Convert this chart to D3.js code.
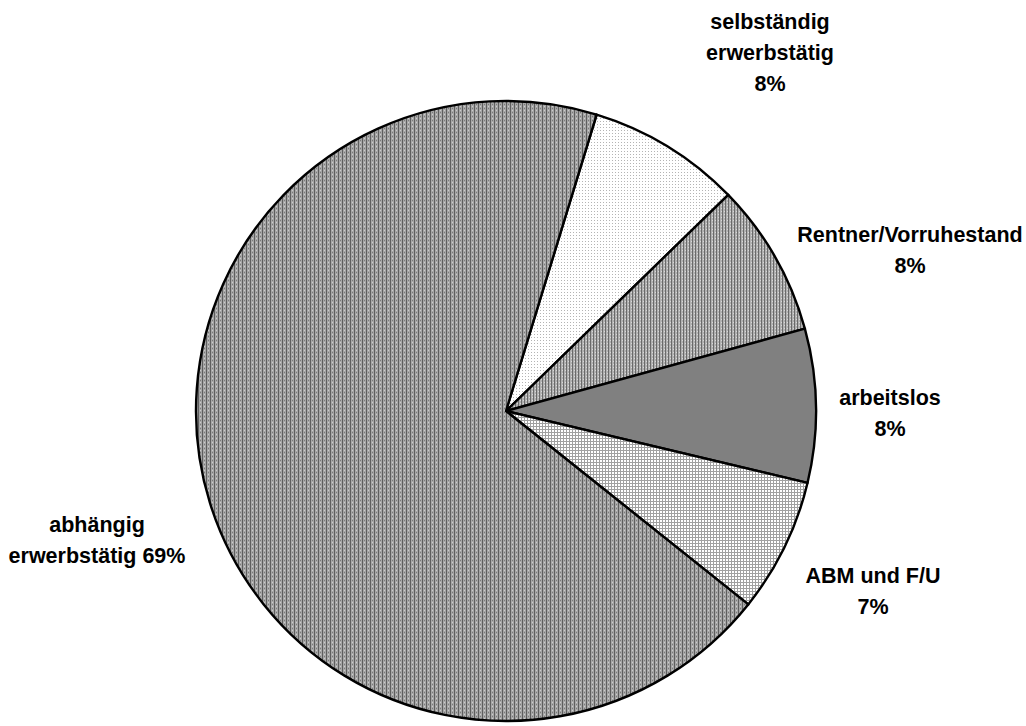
<!DOCTYPE html>
<html>
<head>
<meta charset="utf-8">
<script src="https://cdn.jsdelivr.net/npm/d3@7"></script>
<style>
  html, body { margin: 0; padding: 0; background: #fff; }
  svg { display: block; }
  text { font-family: "Liberation Sans", Arial, sans-serif; font-weight: bold; fill: #000; }
</style>
</head>
<body>
<svg id="chart" width="1026" height="726"></svg>
<script>
// Employment status shares, in percent
const categories = ["selbständig erwerbstätig", "Rentner/Vorruhestand", "arbeitslos", "ABM und F/U", "abhängig erwerbstätig"];
const values = [8, 8, 8, 7, 69];
// Label text lines for each slice (value appended from the data)
const labelLines = [
  ["selbständig", "erwerbstätig", "{v}%"],
  ["Rentner/Vorruhestand", "{v}%"],
  ["arbeitslos", "{v}%"],
  ["ABM und F/U", "{v}%"],
  ["abhängig", "erwerbstätig {v}%"]
];
// Where each label block is centred (x) and its first baseline (y)
const labelAnchors = [[770, 29], [910, 242], [890, 405], [873, 583], [97, 532]];

const svg = d3.select("#chart");
const cx = 506, cy = 411, radius = 310;
const lineGap = 31;

// Fill patterns for the slices
const defs = svg.append("defs");

function pattern(id, size, bg, draw) {
  const p = defs.append("pattern").attr("id", id)
    .attr("patternUnits", "userSpaceOnUse").attr("width", size).attr("height", size);
  p.append("rect").attr("width", size).attr("height", size).attr("fill", bg);
  draw(p);
}
// dense mid-grey weave
pattern("pWeave", 4, "#a6a6a6", p => {
  p.append("rect").attr("x", 0).attr("y", 0).attr("width", 1).attr("height", 4).attr("fill", "#5e5e5e");
  p.append("rect").attr("x", 2).attr("y", 1).attr("width", 1).attr("height", 1).attr("fill", "#7a7a7a");
  p.append("rect").attr("x", 2).attr("y", 3).attr("width", 1).attr("height", 1).attr("fill", "#cccccc");
});
// slightly lighter weave
pattern("pWeave2", 3, "#b0b0b0", p => {
  p.append("rect").attr("x", 0).attr("y", 0).attr("width", 1).attr("height", 3).attr("fill", "#6a6a6a");
  p.append("rect").attr("x", 2).attr("y", 1).attr("width", 1).attr("height", 1).attr("fill", "#d8d8d8");
});
// sparse dots on white
pattern("pDots", 3, "#ffffff", p => {
  p.append("rect").attr("x", 1).attr("y", 1).attr("width", 1).attr("height", 1).attr("fill", "#b4b4b4");
});
// fine grid on white
pattern("pGrid", 3, "#ffffff", p => {
  p.append("rect").attr("x", 0).attr("y", 0).attr("width", 3).attr("height", 1).attr("fill", "#a0a0a0");
  p.append("rect").attr("x", 0).attr("y", 0).attr("width", 1).attr("height", 3).attr("fill", "#a0a0a0");
});

const fills = ["url(#pDots)", "url(#pWeave2)", "#808080", "url(#pGrid)", "url(#pWeave)"];

const startDeg = 17;
const pie = d3.pie().sort(null).value(d => d)
  .startAngle(startDeg * Math.PI / 180)
  .endAngle((startDeg + 360) * Math.PI / 180);
const arc = d3.arc().innerRadius(0).outerRadius(radius);

const g = svg.append("g").attr("transform", `translate(${cx},${cy})`);
g.selectAll("path.slice")
  .data(pie(values))
  .join("path")
  .attr("class", "slice")
  .attr("d", arc)
  .attr("fill", (d, i) => fills[i])
  .attr("stroke", "#000")
  .attr("stroke-width", 2.4)
  .attr("stroke-linejoin", "round");

// Labels
const labels = svg.selectAll("text.lbl")
  .data(categories)
  .join("text")
  .attr("class", "lbl")
  .attr("text-anchor", "middle")
  .attr("font-size", 21.5);
labels.each(function(d, i) {
  const t = d3.select(this);
  labelLines[i].forEach((line, k) => {
    t.append("tspan")
      .attr("x", labelAnchors[i][0])
      .attr("y", labelAnchors[i][1] + k * lineGap)
      .text(line.replace("{v}", values[i]));
  });
});
</script>
</body>
</html>
